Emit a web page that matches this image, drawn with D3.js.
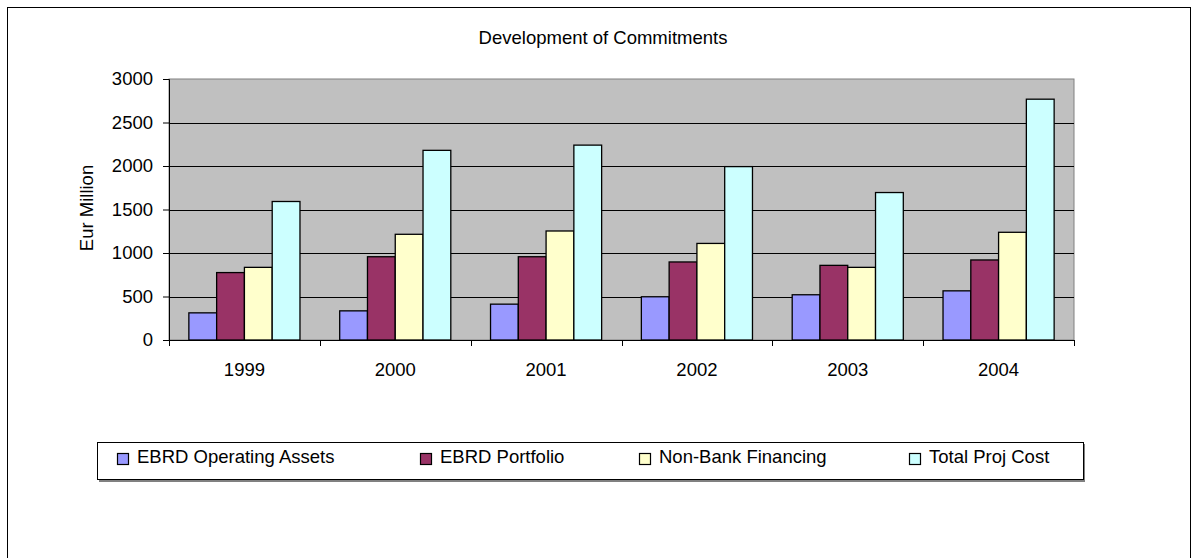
<!DOCTYPE html>
<html><head><meta charset="utf-8">
<script src="https://cdn.jsdelivr.net/npm/d3@7"></script>
<style>body{margin:0;background:#fff}svg{display:block;font-family:"Liberation Sans",Arial,sans-serif}</style>
</head><body><svg id="c" width="1198" height="558"></svg>
<script>
const years = ["1999","2000","2001","2002","2003","2004"];
const seriesNames = ["EBRD Operating Assets","EBRD Portfolio","Non-Bank Financing","Total Proj Cost"];
const operatingAssets = [312, 335, 412, 497, 520, 565];
const portfolio = [775, 957, 957, 897, 858, 920];
const nonBank = [835, 1215, 1253, 1110, 835, 1238];
const totalProjCost = [1592, 2180, 2240, 1993, 1695, 2768];
const yTicks = [0,500,1000,1500,2000,2500,3000];
const colors = ["#9999FF","#993366","#FFFFCC","#CCFFFF"];
const seriesValues = [operatingAssets, portfolio, nonBank, totalProjCost];
const FONT = "Liberation Sans, Arial, sans-serif";

const svg = d3.select("#c");
svg.append("rect").attr("x",7.5).attr("y",7.5).attr("width",1183).attr("height",600)
  .attr("fill","#fff").attr("stroke","#000").attr("stroke-width",1);

const L=169,R=1074,T=79,B=340;
const x = d3.scaleBand().domain(years).range([L,R]).paddingInner(0).paddingOuter(0);
const gap = 1.43;
const x1 = d3.scaleBand().domain(d3.range(4)).range([0,x.bandwidth()]).paddingInner(0)
  .paddingOuter(gap/2);
const y = d3.scaleLinear().domain([0,3000]).range([B,T]);

svg.append("rect").attr("x",L).attr("y",T).attr("width",R-L).attr("height",B-T)
  .attr("fill","#C0C0C0").attr("stroke","#808080").attr("stroke-width",1);

svg.append("g").selectAll("line").data(yTicks.filter(d=>d>0 && d<3000)).join("line")
  .attr("x1",L).attr("x2",R).attr("y1",d=>Math.round(y(d))+0.5).attr("y2",d=>Math.round(y(d))+0.5)
  .attr("stroke","#000").attr("stroke-width",1);

const g = svg.append("g");
years.forEach((yr,i)=>{
  seriesValues.forEach((vals,s)=>{
    g.append("rect")
      .attr("x",x(yr)+x1(s)).attr("width",x1.bandwidth())
      .attr("y",y(vals[i])).attr("height",B-y(vals[i]))
      .attr("fill",colors[s]).attr("stroke","#000").attr("stroke-width",1.3);
  });
});

const ya = svg.append("g").attr("transform",`translate(${L},0)`)
  .call(d3.axisLeft(y).tickValues(yTicks).tickSize(6).tickPadding(10).tickFormat(d3.format("d")));
ya.select(".domain").attr("stroke","#000");
ya.selectAll("text").attr("font-size","18.5px").attr("fill","#000").attr("font-family",FONT);
ya.selectAll("line").attr("stroke","#000");

const xa = svg.append("g").attr("transform",`translate(0,${B})`)
  .call(d3.axisBottom(x).tickSize(0));
xa.select(".domain").attr("stroke","#000").attr("d",`M${L},0.5H${R}`);
xa.selectAll("text").attr("font-size","18.5px").attr("fill","#000").attr("font-family",FONT)
  .attr("dy",0).attr("y",36);
svg.append("g").selectAll("line").data(years.concat(["end"])).join("line")
  .attr("x1",(d,i)=>Math.round(L+i*x.bandwidth())+0.5).attr("x2",(d,i)=>Math.round(L+i*x.bandwidth())+0.5)
  .attr("y1",B).attr("y2",B+6).attr("stroke","#000");

svg.append("text").attr("x",603).attr("y",44).attr("text-anchor","middle")
  .attr("font-size","18.5px").text("Development of Commitments");
svg.append("text").attr("transform","translate(93,208) rotate(-90)").attr("text-anchor","middle")
  .attr("font-size","18.5px").text("Eur Million");

svg.append("rect").attr("x",99).attr("y",444).attr("width",986).attr("height",38).attr("fill","#808080");
svg.append("rect").attr("x",97.5).attr("y",442.5).attr("width",986).attr("height",37)
  .attr("fill","#fff").attr("stroke","#000");
const lx = [117,420,639,909];
const lg = svg.append("g").selectAll("g").data(seriesNames).join("g")
  .attr("transform",(d,i)=>`translate(${lx[i]},459)`);
lg.append("rect").attr("x",0.5).attr("y",-5.5).attr("width",11).attr("height",11)
  .attr("fill",(d,i)=>colors[i]).attr("stroke","#000").attr("stroke-width",1.2);
lg.append("text").attr("x",20).attr("y",4).attr("font-size","18.5px").text(d=>d);
</script></body></html>
